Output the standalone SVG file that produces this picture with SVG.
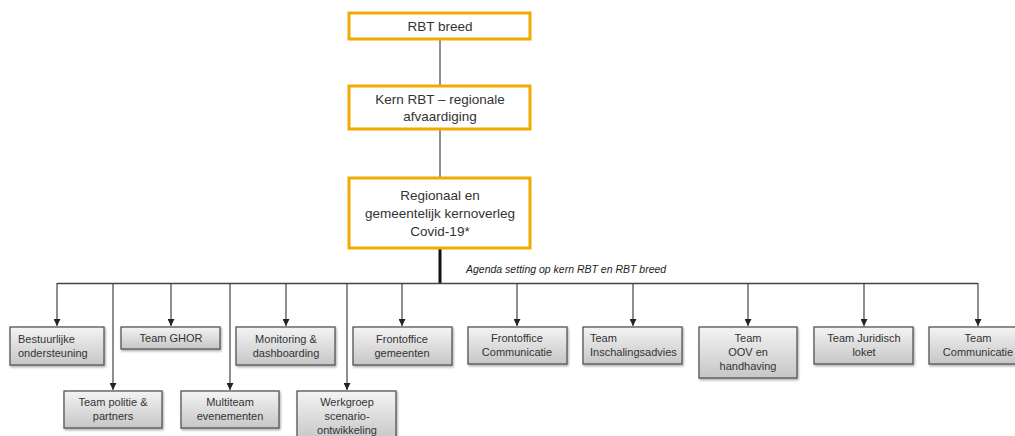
<svg xmlns="http://www.w3.org/2000/svg" width="1015" height="436" viewBox="0 0 1015 436">
<defs>
<linearGradient id="g" x1="0" y1="0" x2="0" y2="1">
<stop offset="0" stop-color="#f4f4f4"/>
<stop offset="1" stop-color="#c6c6c6"/>
</linearGradient>
<filter id="sh" x="-10%" y="-10%" width="130%" height="140%">
<feDropShadow dx="1" dy="1.5" stdDeviation="1" flood-color="#000" flood-opacity="0.35"/>
</filter>
<marker id="ah" viewBox="0 0 10 10" refX="10" refY="5" markerWidth="7" markerHeight="7" markerUnits="userSpaceOnUse" orient="auto">
<path d="M0,0 L10,5 L0,10 z" fill="#222"/>
</marker>
</defs>
<style>
.top{fill:#fff;stroke:#f2a900;stroke-width:3}
.tt{font-family:"Liberation Sans",Arial,sans-serif;font-size:13.5px;fill:#333;text-anchor:middle}
.box{fill:url(#g);stroke:#555;stroke-width:1.3;filter:url(#sh)}
.bt{font-family:"Liberation Sans",Arial,sans-serif;font-size:11px;fill:#333;text-anchor:middle}
.bl{font-family:"Liberation Sans",Arial,sans-serif;font-size:11px;fill:#333}
.c{fill:none;stroke:#444;stroke-width:1.4}
.ca{fill:none;stroke:#444;stroke-width:1.2;marker-end:url(#ah)}
.lbl{font-family:"Liberation Sans",Arial,sans-serif;font-size:10.5px;font-style:italic;fill:#222}
</style>
<g id="connectors">
<line x1="440" y1="39" x2="440" y2="85" stroke="#222" stroke-width="1"/>
<line x1="440" y1="130" x2="440" y2="177" stroke="#222" stroke-width="1"/>
<line x1="440" y1="249" x2="440" y2="284" stroke="#111" stroke-width="3"/>
<line class="c" x1="57" y1="283.5" x2="978" y2="283.5"/>
<line class="ca" x1="57" y1="283" x2="57" y2="326"/>
<line class="ca" x1="113" y1="283" x2="113" y2="390"/>
<line class="ca" x1="171" y1="283" x2="171" y2="326"/>
<line class="ca" x1="230" y1="283" x2="230" y2="390"/>
<line class="ca" x1="286" y1="283" x2="286" y2="326"/>
<line class="ca" x1="347" y1="283" x2="347" y2="390"/>
<line class="ca" x1="402" y1="283" x2="402" y2="326"/>
<line class="ca" x1="517" y1="283" x2="517" y2="326"/>
<line class="ca" x1="633" y1="283" x2="633" y2="326"/>
<line class="ca" x1="748" y1="283" x2="748" y2="326"/>
<line class="ca" x1="864" y1="283" x2="864" y2="326"/>
<line class="ca" x1="978" y1="283" x2="978" y2="326"/>
<text class="lbl" x="466" y="273">Agenda setting op kern RBT en RBT breed</text>
</g>
<g id="rbt-breed">
<rect class="top" x="349" y="13" width="181" height="26"/>
<text class="tt" x="440" y="31">RBT breed</text>
</g>
<g id="kern-rbt">
<rect class="top" x="349" y="86" width="181" height="43"/>
<text class="tt" x="440" y="104">Kern RBT – regionale</text>
<text class="tt" x="440" y="121">afvaardiging</text>
</g>
<g id="kernoverleg">
<rect class="top" x="349" y="178" width="181" height="70"/>
<text class="tt" x="440" y="200">Regionaal en</text>
<text class="tt" x="440" y="218">gemeentelijk kernoverleg</text>
<text class="tt" x="440" y="236">Covid-19*</text>
</g>
<g id="bestuurlijke">
<rect class="box" x="10" y="327" width="94" height="38"/>
<text class="bl" x="18" y="343">Bestuurlijke</text>
<text class="bl" x="18" y="357">ondersteuning</text>
</g>
<g id="politie">
<rect class="box" x="64" y="391" width="98" height="37"/>
<text class="bt" x="113" y="406">Team politie &amp;</text>
<text class="bt" x="113" y="420">partners</text>
</g>
<g id="ghor">
<rect class="box" x="121" y="327" width="99" height="22"/>
<text class="bt" x="171" y="342">Team GHOR</text>
</g>
<g id="multiteam">
<rect class="box" x="181" y="391" width="98" height="37"/>
<text class="bt" x="230" y="406">Multiteam</text>
<text class="bt" x="230" y="420">evenementen</text>
</g>
<g id="monitoring">
<rect class="box" x="236" y="327" width="99" height="38"/>
<text class="bt" x="286" y="343">Monitoring &amp;</text>
<text class="bt" x="286" y="357">dashboarding</text>
</g>
<g id="werkgroep">
<rect class="box" x="297" y="391" width="99" height="50"/>
<text class="bt" x="347" y="406">Werkgroep</text>
<text class="bt" x="347" y="420">scenario-</text>
<text class="bt" x="347" y="434">ontwikkeling</text>
</g>
<g id="fo-gemeenten">
<rect class="box" x="353" y="327" width="99" height="38"/>
<text class="bt" x="402" y="343">Frontoffice</text>
<text class="bt" x="402" y="357">gemeenten</text>
</g>
<g id="fo-communicatie">
<rect class="box" x="468" y="327" width="99" height="37"/>
<text class="bt" x="517" y="342">Frontoffice</text>
<text class="bt" x="517" y="356">Communicatie</text>
</g>
<g id="inschalingsadvies">
<rect class="box" x="583" y="327" width="99" height="37"/>
<text class="bl" x="590" y="342">Team</text>
<text class="bl" x="590" y="356">Inschalingsadvies</text>
</g>
<g id="oov">
<rect class="box" x="699" y="327" width="98" height="51"/>
<text class="bt" x="748" y="342">Team</text>
<text class="bt" x="748" y="356">OOV en</text>
<text class="bt" x="748" y="370">handhaving</text>
</g>
<g id="juridisch">
<rect class="box" x="814" y="327" width="99" height="37"/>
<text class="bt" x="864" y="342">Team Juridisch</text>
<text class="bt" x="864" y="356">loket</text>
</g>
<g id="communicatie">
<rect class="box" x="929" y="327" width="99" height="37"/>
<text class="bt" x="978" y="342">Team</text>
<text class="bt" x="978" y="356">Communicatie</text>
</g>
</svg>
